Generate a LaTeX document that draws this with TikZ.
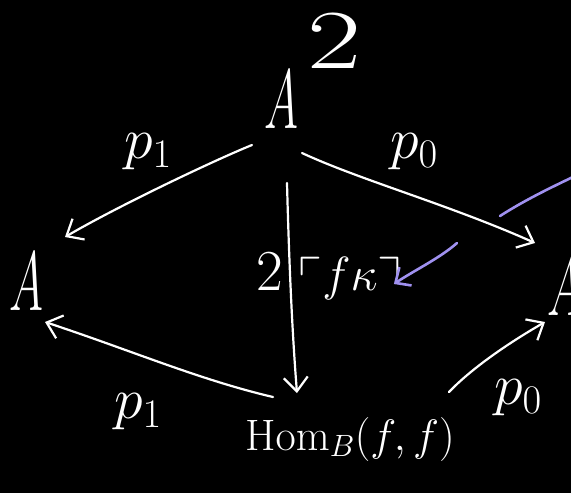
\RequirePackage{fix-cm}
\documentclass[tikz,border=0pt]{standalone}
\usepackage{amssymb}
\usetikzlibrary{arrows.meta,calc}
\definecolor{lav}{RGB}{160,145,240}
\newcommand{\narrowA}{\scalebox{0.55}[1]{$A$}}
\begin{document}
\begin{tikzpicture}[x=1pt,y=-1pt,line cap=round,line join=round,
  big/.style={text=white,inner sep=0pt,font=\fontsize{84}{86}\selectfont},
  lbl/.style={text=white,inner sep=0pt,font=\fontsize{58}{60}\selectfont},
  fkst/.style={text=white,inner sep=0pt,font=\fontsize{48}{50}\selectfont},
  homst/.style={text=white,inner sep=0pt,font=\fontsize{44}{46}\selectfont},
  arr/.style={draw=white,line width=2.2pt,-{Straight Barb[length=14pt,width=24pt,line width=2.2pt]}},
  parr/.style={draw=lav,line width=2.6pt,-{Straight Barb[length=12pt,width=22pt,line width=2.6pt]}},
  pline/.style={draw=lav,line width=2.6pt}]
\fill[black] (0,0) rectangle (571,493);
\useasboundingbox (0,0) rectangle (571,493);
% objects
\node[big,anchor=base] (A2) at (281,128) {\narrowA};
\node[big,anchor=base] (sq) at (334,68) {\scalebox{1.4}[1]{$2$}};
\node[big,anchor=base] (Al) at (26,310) {\narrowA};
\node[big,anchor=base] (Ar) at (564,315) {\narrowA};
\node[homst,anchor=base] (Hom) at (350,450) {$\mathrm{Hom}_B(f,f)$};
% labels
\node[lbl] (lp1t) at (148,152) {$p_1$};
\node[lbl] (lp0t) at (414,152) {$p_0$};
\node[lbl] (l2) at (270,272) {$2$};
\node[fkst] (lfk) at (350,278) {$\ulcorner f\kappa\urcorner$};
\node[lbl] (lp1b) at (138,412) {$p_1$};
\node[lbl] (lp0b) at (518,398) {$p_0$};
% arrows
\draw[arr] ($(A2.base)+(-29,17)$) .. controls (215,160) and (120,205) .. ($(Al.base)+(39,-73)$);
\draw[arr] ($(A2.base)+(21,25)$) .. controls (360,180) and (450,205) .. ($(Ar.base)+(-29,-72)$);
\draw[arr] ($(A2.base)+(6,55)$) .. controls (289,260) and (292,330) .. ($(Hom.base)+(-53,-57)$);
\draw[arr] ($(Hom.base)+(-77,-53)$) .. controls (200,380) and (130,350) .. ($(Al.base)+(19,12)$);
\draw[arr] ($(Hom.base)+(99,-58)$) .. controls (470,370) and (505,345) .. ($(Ar.base)+(-19,7)$);
% purple marks
\coordinate (pa) at (500,216);
\coordinate (pb) at (575,176);
\draw[pline] (pa) .. controls (525,200) and (550,188) .. (pb);
\coordinate (pc) at (457,243);
\draw[parr] (pc) .. controls (440,258) and (415,270) .. ($(lfk.east)+(-8,6)$);
\end{tikzpicture}
\end{document}
